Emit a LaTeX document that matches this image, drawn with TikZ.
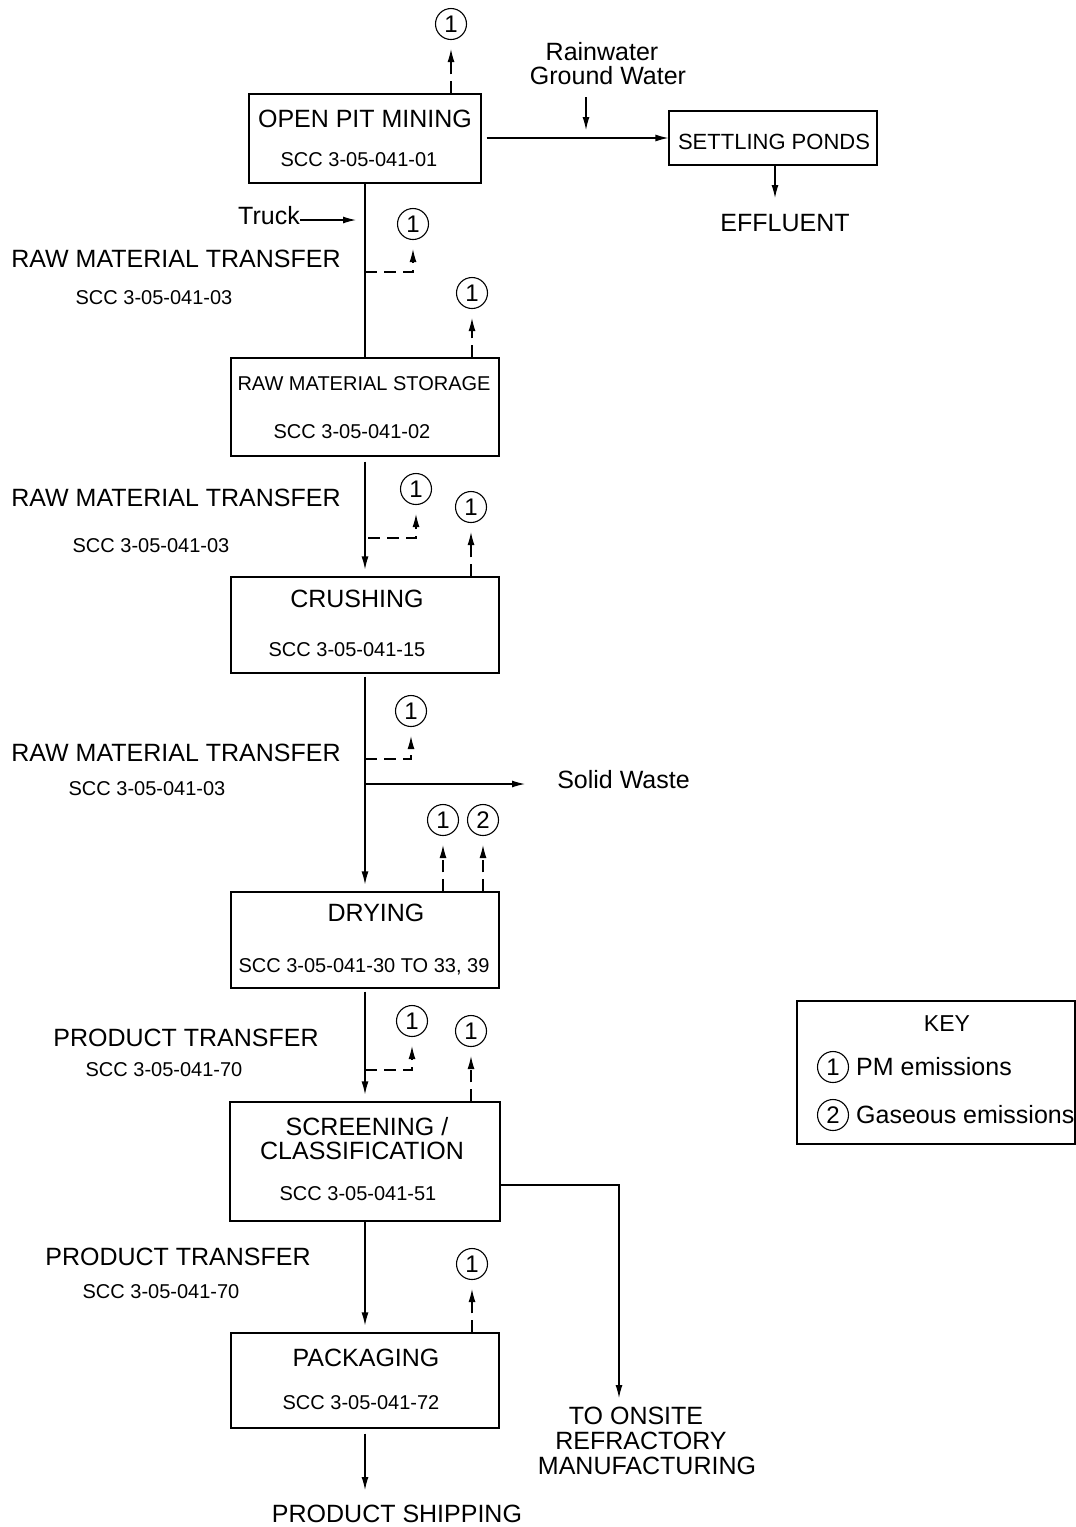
\documentclass[tikz,border=0pt]{standalone}
\usepackage{fontspec}
\setmainfont{Liberation Sans}
\usetikzlibrary{arrows.meta}
\tikzset{
  box/.style={draw, line width=1.2pt, inner sep=0pt},
  big/.style={inner sep=0pt, font=\fontsize{25}{30}\selectfont},
  mid/.style={inner sep=0pt, font=\fontsize{22}{26}\selectfont},
  small/.style={inner sep=0pt, font=\fontsize{20}{24}\selectfont},
  emis/.style={draw, circle, line width=1.1pt, minimum size=31pt, inner sep=0pt, font=\fontsize{24}{26}\selectfont},
  arr/.style={line width=1.2pt, -{Latex[length=13pt,width=7pt]}},
  plain/.style={line width=1.2pt},
  darr/.style={line width=1.2pt, dash pattern=on 12pt off 7pt, -{Latex[length=13pt,width=7pt]}, shorten >=9pt},
}
\begin{document}
\begin{tikzpicture}[x=1pt,y=-1pt]
\useasboundingbox (0,0) rectangle (1076,1527);

% ---------- boxes ----------
\node[box, minimum width=232pt, minimum height=89pt] (opm) at (365,138.5) {};
\node[box, minimum width=208pt, minimum height=54pt] (ponds) at (773,138) {};
\node[box, minimum width=268pt, minimum height=98pt] (store) at (365,407) {};
\node[box, minimum width=268pt, minimum height=96pt] (crush) at (365,625) {};
\node[box, minimum width=268pt, minimum height=96pt] (dry) at (365,940) {};
\node[box, minimum width=270pt, minimum height=119pt] (screen) at (365,1161.5) {};
\node[box, minimum width=268pt, minimum height=95pt] (pack) at (365,1380.5) {};
\node[box, minimum width=278pt, minimum height=143pt] (key) at (936,1072.5) {};

% ---------- box texts ----------
\node[big] (t-opm) at (365,119) {OPEN PIT MINING};
\node[small] (s-opm) at (359,160) {SCC 3-05-041-01};
\node[mid] (t-ponds) at (774,142) {SETTLING PONDS};
\node[small] (t-store) at (364,384) {RAW MATERIAL STORAGE};
\node[small] (s-store) at (352,432) {SCC 3-05-041-02};
\node[big] (t-crush) at (357,599) {CRUSHING};
\node[small] (s-crush) at (347,650) {SCC 3-05-041-15};
\node[big] (t-dry) at (376,913) {DRYING};
\node[small] (s-dry) at (364,967) {SCC 3-05-041-30 TO 33, 39};
\node[big] (t-screen1) at (367,1127) {SCREENING /};
\node[big] (t-screen2) at (362,1151) {CLASSIFICATION};
\node[small] (s-screen) at (358,1194) {SCC 3-05-041-51};
\node[big] (t-pack) at (366,1358) {PACKAGING};
\node[small] (s-pack) at (361,1403) {SCC 3-05-041-72};

% ---------- side labels ----------
\node[big] (l1) at (176,259) {RAW MATERIAL TRANSFER};
\node[small] (l1s) at (154,298) {SCC 3-05-041-03};
\node[big] (l2) at (176,498) {RAW MATERIAL TRANSFER};
\node[small] (l2s) at (151,546) {SCC 3-05-041-03};
\node[big] (l3) at (176,753) {RAW MATERIAL TRANSFER};
\node[small] (l3s) at (147,789) {SCC 3-05-041-03};
\node[big] (l4) at (186,1038) {PRODUCT TRANSFER};
\node[small] (l4s) at (164,1070) {SCC 3-05-041-70};
\node[big] (l5) at (178,1257) {PRODUCT TRANSFER};
\node[small] (l5s) at (161,1292) {SCC 3-05-041-70};

\node[big] (rain) at (602,52) {Rainwater};
\node[big] (gw) at (608,76) {Ground Water};
\node[big] (eff) at (785,223) {EFFLUENT};
\node[big] (truck) at (269,216) {Truck};
\node[big] (sw) at (623.5,780) {Solid Waste};
\node[big] (ref1) at (636,1416) {TO ONSITE};
\node[big] (ref2) at (641,1441) {REFRACTORY};
\node[big] (ref3) at (647,1466) {MANUFACTURING};
\node[big] (ship) at (397,1514) {PRODUCT SHIPPING};

% ---------- key ----------
\node[mid, font=\fontsize{23}{26}\selectfont] (keyt) at (947,1024) {KEY};
\node[emis] (k1) at (833,1067) {1};
\node[big, anchor=west] (k1t) at (856,1067) {PM emissions};
\node[emis] (k2) at (833,1115) {2};
\node[big, anchor=west] (k2t) at (856,1115) {Gaseous emissions};

% ---------- emission circles ----------
\node[emis] (e0) at (451,24) {1};
\node[emis] (e1) at (413,224) {1};
\node[emis] (e2) at (472,293) {1};
\node[emis] (e3) at (416,489) {1};
\node[emis] (e4) at (471,507) {1};
\node[emis] (e5) at (411,711) {1};
\node[emis] (e6) at (443,820) {1};
\node[emis] (e7) at (483,820) {2};
\node[emis] (e8) at (412,1021) {1};
\node[emis] (e9) at (471,1031) {1};
\node[emis] (e10) at (472,1264) {1};

% ---------- coordinates ----------
\coordinate (rw1) at (586,97);
\coordinate (rw2) at (586,130);
\coordinate (tr1) at (300,220);
\coordinate (tr2) at (356,220);
\coordinate (effin) at (775,198);
\coordinate (b1) at (365,272);
\coordinate (b3) at (365,538);
\coordinate (b5) at (365,759);
\coordinate (sw0) at (365,784);
\coordinate (sw1) at (525,784);
\coordinate (b8) at (365,1070);
\coordinate (sr0) at (500,1185);
\coordinate (sr1) at (619,1398);
\coordinate (shipin) at (365,1490);

% ---------- solid connectors ----------
\draw[arr, shorten <=5pt] (opm.east |- ponds.west) -- (ponds.west);
\draw[arr] (rw1) -- (rw2);
\draw[arr] (ponds.south -| effin) -- (effin);
\draw[arr] (tr1) -- (tr2);
\draw[plain] (opm.south) -- (store.north);
\draw[arr, shorten <=5pt, shorten >=7pt] (store.south) -- (crush.north);
\draw[arr, shorten <=3pt, shorten >=7pt] (crush.south) -- (dry.north);
\draw[arr] (sw0) -- (sw1);
\draw[arr, shorten <=3pt, shorten >=7pt] (dry.south) -- (screen.north);
\draw[arr] (sr0) -| (sr1);
\draw[arr, shorten >=7pt] (screen.south) -- (pack.north);
\draw[arr, shorten <=5pt] (pack.south) -- (shipin);

% ---------- dashed emission arrows ----------
\draw[darr] (opm.north -| e0) -- (e0.south);
\draw[darr] (b1) -| (e1.south);
\draw[darr] (store.north -| e2) -- (e2.south);
\draw[darr, shorten <=3pt] (b3) -| (e3.south);
\draw[darr] (crush.north -| e4) -- (e4.south);
\draw[darr] (b5) -| (e5.south);
\draw[darr] (dry.north -| e6) -- (e6.south);
\draw[darr] (dry.north -| e7) -- (e7.south);
\draw[darr] (b8) -| (e8.south);
\draw[darr] (screen.north -| e9) -- (e9.south);
\draw[darr] (pack.north -| e10) -- (e10.south);
\end{tikzpicture}
\end{document}
